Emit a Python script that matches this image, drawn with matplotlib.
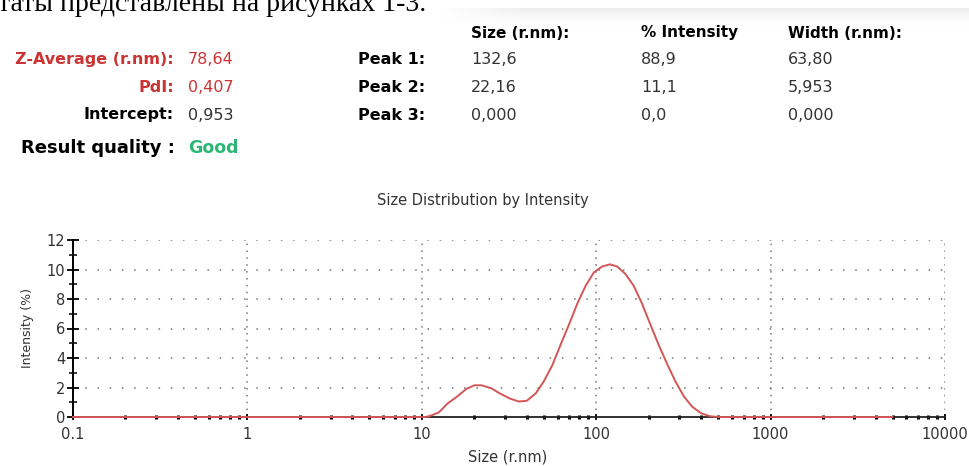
import numpy as np
import matplotlib
matplotlib.use("Agg")
import matplotlib.pyplot as plt
from matplotlib.ticker import LogLocator, FixedLocator, NullFormatter

W, H = 970, 466

# --- data ---
size_nm = [0.1, 0.2, 0.5, 1, 2, 5, 10, 10.5, 11, 12.5, 14, 16, 18, 20, 22, 25, 28,
           32, 36, 40, 45, 50, 56, 62, 70, 78, 87, 97, 108, 120, 132, 147, 164,
           183, 204, 228, 255, 285, 318, 355, 400, 450, 500, 1000, 2000, 5000]
intensity = [0, 0, 0, 0, 0, 0, 0, 0, 0.05, 0.3, 0.9, 1.4, 1.9, 2.15, 2.15, 1.95, 1.6,
             1.25, 1.05, 1.1, 1.6, 2.4, 3.5, 4.8, 6.3, 7.7, 8.9, 9.8, 10.2, 10.35, 10.2,
             9.7, 8.9, 7.7, 6.3, 4.9, 3.6, 2.4, 1.4, 0.7, 0.25, 0.05, 0, 0, 0, 0]

summary_labels = ["Z-Average (r.nm):", "PdI:", "Intercept:"]
summary_values = ["78,64", "0,407", "0,953"]
peak_labels = ["Peak 1:", "Peak 2:", "Peak 3:"]
peak_cols = ["Size (r.nm):", "% Intensity", "Width (r.nm):"]
peak_size = ["132,6", "22,16", "0,000"]
peak_int = ["88,9", "11,1", "0,0"]
peak_width = ["63,80", "5,953", "0,000"]
y_ticks = [0, 2, 4, 6, 8, 10, 12]
x_ticks = [0.1, 1, 10, 100, 1000, 10000]
x_ticklabels = ["0.1", "1", "10", "100", "1000", "10000"]

RED = "#cc3333"
LINE_RED = "#d35656"
GREEN = "#2bb673"
DARK = "#333333"

plt.rcParams['font.family'] = ['DejaVu Sans']

fig = plt.figure(figsize=(W / 100, H / 100), dpi=100)
fig.patch.set_facecolor("white")


def px(x, y):
    return x / W, 1 - y / H


# soft shadow band behind the peak table header
gax = fig.add_axes([435 / W, 1 - 28 / H, 535 / W, 20 / H])
vert = np.linspace(1, 0, 60)[:, None] ** 1.5
horiz = np.clip(np.linspace(0, 6, 300), 0, 1)[None, :]
gax.imshow(vert * horiz, cmap="Greys", vmin=0, vmax=7, aspect="auto",
           origin="upper", interpolation="bilinear")
gax.axis("off")

# cut-off line of the document text above the screenshot
fig.text(*px(-2, 11), "таты представлены на рисунках 1-3.", ha="left",
         va="baseline", fontsize=20, family=["Liberation Serif"], color="black")

# summary block
rows_y = [60, 88, 115]
for i, (lab, val) in enumerate(zip(summary_labels, summary_values)):
    col = RED if i < 2 else "black"
    vcol = RED if i < 2 else DARK
    fig.text(*px(174, rows_y[i]), lab, ha="right", va="center", fontsize=11.5,
             fontweight="bold", color=col)
    fig.text(*px(188, rows_y[i]), val, ha="left", va="center", fontsize=11.5,
             color=vcol)
fig.text(*px(175, 148), "Result quality :", ha="right", va="center", fontsize=13,
         fontweight="bold", color="black")
fig.text(*px(188, 148), "Good", ha="left", va="center", fontsize=12.5,
         fontweight="bold", color=GREEN)

# peak table
col_x = [471, 641, 788]
for cx, head in zip(col_x, peak_cols):
    fig.text(*px(cx, 33), head, ha="left", va="center", fontsize=11,
             fontweight="bold", color="black")
for i in range(3):
    fig.text(*px(358, rows_y[i]), peak_labels[i], ha="left", va="center",
             fontsize=11.5, fontweight="bold", color="black")
    for cx, vals in zip(col_x, [peak_size, peak_int, peak_width]):
        fig.text(*px(cx, rows_y[i]), vals[i], ha="left", va="center",
                 fontsize=11.5, color=DARK)

# chart
ax = fig.add_axes([73 / W, 1 - 417 / H, 872 / W, 177 / H])
ax.set_xscale("log")
ax.set_xlim(0.1, 10000)
ax.set_ylim(0, 12)
ax.plot(size_nm, intensity, color=LINE_RED, lw=1.4, zorder=3, clip_on=False)

ax.set_xticks(x_ticks)
ax.set_xticklabels(x_ticklabels)
ax.xaxis.set_minor_locator(LogLocator(base=10, subs=np.arange(2, 10), numticks=20))
ax.xaxis.set_minor_formatter(NullFormatter())
ax.set_yticks(y_ticks)
ax.yaxis.set_minor_locator(FixedLocator([1, 3, 5, 7, 9, 11]))

for s in ["top", "right"]:
    ax.spines[s].set_visible(False)
ax.spines["left"].set_color("black")
ax.spines["left"].set_linewidth(1.4)
ax.spines["bottom"].set_color("#222222")
ax.spines["bottom"].set_linewidth(1.3)

ax.tick_params(axis="y", which="major", direction="inout", length=9, width=1.3,
               labelsize=10.5, labelcolor=DARK, pad=1)
ax.tick_params(axis="y", which="minor", direction="inout", length=6, width=1.1)
ax.tick_params(axis="x", which="major", direction="inout", length=5, width=1.3,
               labelsize=10.5, labelcolor=DARK, pad=5)
ax.tick_params(axis="x", which="minor", direction="inout", length=2.5, width=2.2)

# dotted grid, including the top and right edges
for yv in y_ticks[1:]:
    ax.axhline(yv, color="#777777", lw=1.1, ls=(0, (1, 7)), zorder=1)
for xv in x_ticks[1:]:
    ax.axvline(xv, color="#777777", lw=1.1, ls=(0, (1, 3.5)), zorder=1)

# title and x label sit a bit left of the axes centre in the screenshot
fig.text(*px(483, 200), "Size Distribution by Intensity", ha="center",
         va="center", fontsize=10.5, color=DARK)
fig.text(*px(508, 457), "Size (r.nm)", ha="center", va="center",
         fontsize=10.5, color=DARK)
ax.set_ylabel("Intensity (%)", fontsize=9, color=DARK, labelpad=9)

fig.savefig("out.png", dpi=100, facecolor="white")
